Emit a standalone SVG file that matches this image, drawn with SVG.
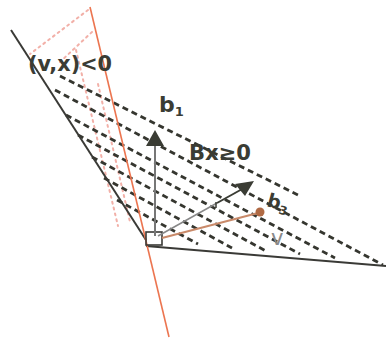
<svg xmlns="http://www.w3.org/2000/svg" width="386" height="340" viewBox="0 0 386 340">
<style>
.txt{font-family:"DejaVu Sans","Liberation Sans",sans-serif;fill:#3a3c34;font-weight:bold}
.solid{stroke:#3a3a36;stroke-width:2;fill:none}
.hatch{stroke:#35362f;stroke-width:2.8;stroke-dasharray:6 4;fill:none}
.pink{stroke:#f2b0a8;stroke-width:2;stroke-dasharray:2 4;stroke-linecap:round;fill:none}
.ax{stroke:#ec7550;stroke-width:1.6;fill:none}
</style>
<rect width="386" height="340" fill="#ffffff"/>
<g id="halfspace-v">
<path class="pink" d="M88,10 L30,54"/>
<path class="pink" d="M92,32 L60,62"/>
<path class="pink" d="M76,50 L118,226"/>
<path class="pink" d="M98,84 L130,222"/>
</g>
<g id="cone-hatch">
<path class="hatch" d="M60,76 L300,196"/>
<path class="hatch" d="M55,90 L383,265"/>
<path class="hatch" d="M66,115 L335,258"/>
<path class="hatch" d="M78,135 L300,254"/>
<path class="hatch" d="M92,157 L266,251"/>
<path class="hatch" d="M104,178 L232,248"/>
<path class="hatch" d="M117,200 L198,244"/>
</g>
<g id="boundaries">
<path class="solid" d="M11,30 L146,240"/>
<path class="solid" d="M146,246 L386,266"/>
<path class="ax" d="M90,7 L169,337"/>
<rect x="146" y="232" width="16" height="13" fill="none" stroke="#3a3a36" stroke-width="1.6"/>
</g>
<g id="connectors">
<path d="M155,236 L155,144" stroke="#777" stroke-width="2" fill="none"/>
<polygon points="155,130 146,146 164,146" fill="#3a3c34"/>
<path d="M158,236 L217,203" stroke="#888" stroke-width="1.5" fill="none"/>
<path d="M217,203 L244,188" stroke="#3a3c34" stroke-width="2" fill="none"/>
<path d="M216,202 L216,208" stroke="#3a3c34" stroke-width="1.5" fill="none"/>
<polygon points="254,181 235,184 245,196" fill="#3a3c34"/>
<path d="M162,238 L258,213" stroke="#c98a6a" stroke-width="2" fill="none"/>
<circle cx="260" cy="212" r="4.5" fill="#b06a44"/>
</g>
<g id="labels">
<text class="txt" x="28" y="71" font-size="21" textLength="84" lengthAdjust="spacingAndGlyphs">(v,x)&lt;0</text>
<text class="txt" x="189" y="160" font-size="21" textLength="62" lengthAdjust="spacingAndGlyphs">Bx≥0</text>
<text class="txt" x="159" y="112" font-size="22" font-weight="normal">b<tspan font-size="13" dy="4">1</tspan></text>
<text class="txt" x="266" y="206" font-size="19" font-weight="normal" transform="rotate(15 266 206)">b<tspan font-size="12" dy="4">3</tspan></text>
<text x="271" y="245" font-size="21" font-family="DejaVu Sans, sans-serif" fill="#8a8a8a">v</text>
</g>
</svg>
